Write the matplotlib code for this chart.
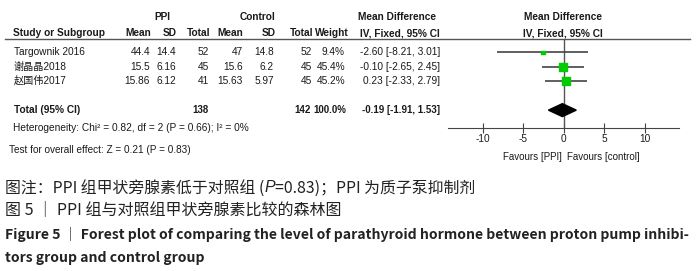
import numpy as np
import matplotlib.pyplot as plt
from matplotlib.patches import Polygon

# -----------------------------
# data
# -----------------------------
studies = ["Targownik 2016", "谢晶晶2018", "赵国伟2017"]
ppi_mean = ["44.4", "15.5", "15.86"]
ppi_sd = ["14.4", "6.16", "6.12"]
ppi_n = [52, 45, 41]
ctl_mean = ["47", "15.6", "15.63"]
ctl_sd = ["14.8", "6.2", "5.97"]
ctl_n = [52, 45, 45]
weights = [9.4, 45.4, 45.2]
md = [-2.60, -0.10, 0.23]
ci_lo = [-8.21, -2.65, -2.33]
ci_hi = [3.01, 2.45, 2.79]

total_md, total_lo, total_hi = -0.19, -1.91, 1.53
total_ppi, total_ctl = 138, 142
ticks = [-10, -5, 0, 5, 10]

TXT = "#1a1a1a"
CJK = ["Liberation Sans", "Noto Sans CJK SC"]

fig = plt.figure(figsize=(7, 2.71), dpi=100)

# overlay axes in pixel units for the table and captions
ov = fig.add_axes([0, 0, 1, 1])
ov.set_xlim(0, 700)
ov.set_ylim(271, 0)
ov.axis("off")

def t(x, y, s, ha="right", bold=False, size=7.3, **kw):
    ov.text(x, y, s, ha=ha, va="center", fontsize=size, color=TXT,
            fontweight="bold" if bold else "normal", family=CJK, **kw)

# header
t(162, 17, "PPI", ha="center", bold=True)
t(258, 17, "Control", ha="center", bold=True)
t(397, 17, "Mean Difference", ha="center", bold=True)
t(563, 17, "Mean Difference", ha="center", bold=True)
t(13, 33, "Study or Subgroup", ha="left", bold=True)
for x, s in zip([151, 177, 210, 243, 276, 313, 349, 440],
                ["Mean", "SD", "Total", "Mean", "SD", "Total", "Weight", "IV, Fixed, 95% CI"]):
    t(x, 33, s, bold=True)
t(563, 33, "IV, Fixed, 95% CI", ha="center", bold=True)
ov.plot([5, 690], [38.5, 38.5], color="#555555", lw=1)

# study rows
row_y = lambda i: 52 + 14.5 * i
for i, name in enumerate(studies):
    y = row_y(i)
    t(14, y, name, ha="left")
    t(150, y, ppi_mean[i]); t(176, y, ppi_sd[i]); t(209, y, str(ppi_n[i]))
    t(243, y, ctl_mean[i]); t(274, y, ctl_sd[i]); t(312, y, str(ctl_n[i]))
    t(345, y, f"{weights[i]:.1f}%")
    t(440, y, f"{md[i]:.2f} [{ci_lo[i]:.2f}, {ci_hi[i]:.2f}]")

yt = row_y(4)
t(14, yt, "Total (95% CI)", ha="left", bold=True)
t(209, yt, str(total_ppi), bold=True, size=7)
t(311, yt, str(total_ctl), bold=True, size=7)
t(346, yt, f"{sum(weights):.1f}%", bold=True, size=7)
t(440, yt, f"{total_md:.2f} [{total_lo:.2f}, {total_hi:.2f}]", bold=True, size=7)
t(13, 128, "Heterogeneity: Chi² = 0.82, df = 2 (P = 0.66); I² = 0%", ha="left", size=7.3)
t(9, 150, "Test for overall effect: Z = 0.21 (P = 0.83)", ha="left", size=7.2)

# forest panel
ax = fig.add_axes([448 / 700, (271 - 128) / 271, (679 - 448) / 700, (128 - 38.5) / 271])
ax.set_facecolor("none")
ax.set_xlim(-14.3, 14.2)
ax.set_ylim(5.24, -0.97)
for s in ["top", "left", "right"]:
    ax.spines[s].set_visible(False)
ax.spines["bottom"].set_color("#444444")
ax.set_yticks([])
ax.set_xticks(ticks)
ax.set_xticklabels([str(v) for v in ticks], family="Liberation Sans", fontsize=7.3, color=TXT)
ax.tick_params(axis="x", direction="inout", length=7, color="#444444", pad=1)
ax.axvline(0, color="#555555", lw=1)

rows = np.arange(len(studies))
ax.hlines(rows, ci_lo, ci_hi, color="#444444", lw=1.2)
ax.scatter(md, rows, s=np.array(weights) * 0.75, marker="s", color="#00cc00", zorder=3)
ax.add_patch(Polygon([[total_lo, 4], [total_md, 4 - 0.45], [total_hi, 4], [total_md, 4 + 0.45]],
                     closed=True, color="black", zorder=3))

t(562, 157, "Favours [PPI]", size=7)
t(567, 157, "Favours [control]", ha="left", size=7)

# captions
fig.canvas.draw()
rend = fig.canvas.get_renderer()

def run(x, y, parts, size, bold=False):
    for s, fam, style in parts:
        txt = ov.text(x, y, s, ha="left", va="center", fontsize=size, color="#222222",
                      family=fam, style=style, fontweight="bold" if bold else "normal")
        bb = txt.get_window_extent(renderer=rend)
        x += bb.width

cjk = ["Noto Sans CJK SC", "DejaVu Sans"]
run(5, 188, [("图注：PPI 组甲状旁腺素低于对照组 (", cjk, "normal"),
             ("P", ["Liberation Sans"], "italic"),
             ("=0.83)；PPI 为质子泵抑制剂", cjk, "normal")], 11.4)
run(5, 210, [("图 5 ｜ PPI 组与对照组甲状旁腺素比较的森林图", cjk, "normal")], 11.5)
run(5, 234, [("Figure 5 ｜ Forest plot of comparing the level of parathyroid hormone between proton pump inhibi-", cjk, "normal")], 10.1, bold=True)
run(5, 258, [("tors group and control group", cjk, "normal")], 10.1, bold=True)

fig.savefig("out.png", dpi=100)
